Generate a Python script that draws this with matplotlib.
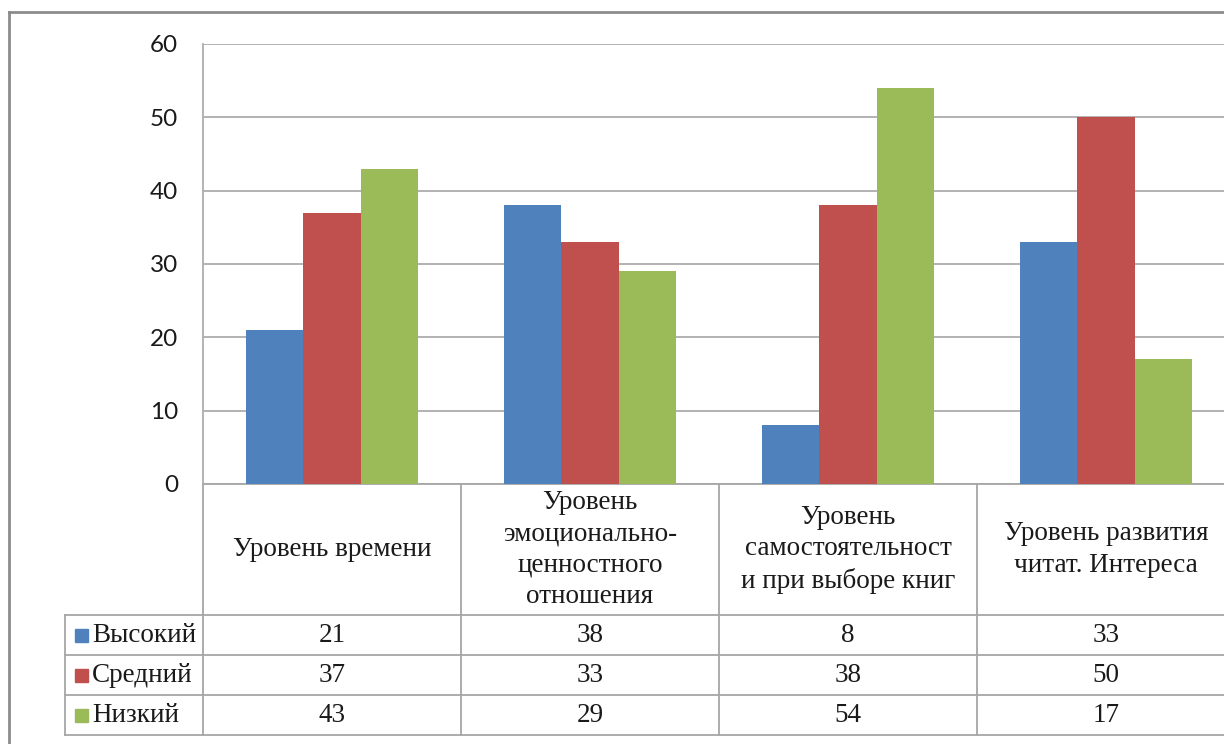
import numpy as np
import matplotlib.pyplot as plt
from matplotlib.lines import Line2D
from matplotlib.patches import Rectangle
import matplotlib.transforms as mtransforms

categories = ["Уровень времени",
              "Уровень\nэмоционально-\nценностного\nотношения",
              "Уровень\nсамостоятельност\nи при выборе книг",
              "Уровень развития\nчитат. Интереса"]
series = ["Высокий", "Средний", "Низкий"]
high = [21, 38, 8, 33]
mid = [37, 33, 38, 50]
low = [43, 29, 54, 17]
colors = ["#4F81BD", "#C0504D", "#9BBB59"]
yticks = [0, 10, 20, 30, 40, 50, 60]

W, H = 1224, 744
fig = plt.figure(figsize=(W / 100, H / 100), dpi=100)

# plot area (pixels): x 203..1235, y 44..484
ax = fig.add_axes([203 / W, (H - 484) / H, 1032 / W, 440 / H])

x = np.arange(len(categories))
bw = 1 / 4.5
for i, (vals, c) in enumerate(zip([high, mid, low], colors)):
    ax.bar(x + (i - 1) * bw, vals, bw, color=c, zorder=3, clip_on=False)

ax.set_xlim(-0.5, len(categories) - 0.5)
ax.set_ylim(0, 60)
ax.set_yticks(yticks)
ax.set_yticklabels([str(t) for t in yticks], fontsize=17.5, family="Lato", color="#1a1a1a")
ax.tick_params(axis="y", length=0, pad=18)
ax.set_xticks([])
ax.grid(axis="y", color="#ADADAD", linewidth=1.3, zorder=0)
for s in ["top", "right", "bottom"]:
    ax.spines[s].set_visible(False)
ax.spines["left"].set_color("#ADADAD")
ax.spines["left"].set_linewidth(1.3)

# data table under the axes
tr = mtransforms.blended_transform_factory(ax.transData, ax.transAxes)
px = 440.0
y_axis = 0.0
y_head = -(615 - 484) / px
row_h = 40 / px
y_rows = [y_head - row_h * k for k in range(4)]
x_lab = -0.5 - 138 / 258
x_edges = np.arange(len(categories) + 1) - 0.5
lc = "#A6A6A6"
lw = 1.3

kw = dict(transform=tr, color=lc, linewidth=lw, clip_on=False)
ax.add_line(Line2D([x_edges[0], x_edges[-1]], [y_axis, y_axis], **kw))
for yy in y_rows:
    ax.add_line(Line2D([x_lab, x_edges[-1]], [yy, yy], **kw))
for xe in x_edges:
    ax.add_line(Line2D([xe, xe], [y_axis, y_rows[-1]], **kw))
ax.add_line(Line2D([x_lab, x_lab], [y_head, y_rows[-1]], **kw))

serif = "Liberation Serif"
fs = 19.5
for j, cat in enumerate(categories):
    ax.text(j, (y_axis + y_head) / 2, cat, transform=tr, ha="center", va="center",
            fontsize=fs, family=serif, color="#1a1a1a", linespacing=1.32)

for r, (name, vals, c) in enumerate(zip(series, [high, mid, low], colors)):
    yc = (y_rows[r] + y_rows[r + 1]) / 2
    ax.add_patch(Rectangle((x_lab + 10 / 258, yc - 6.5 / px), 13 / 258, 13 / px,
                           transform=tr, color=c, clip_on=False))
    ax.text(x_lab + 27 / 258, yc, name, transform=tr, ha="left", va="center",
            fontsize=fs, family=serif, color="#1a1a1a")
    for j, v in enumerate(vals):
        ax.text(j, yc, str(v), transform=tr, ha="center", va="center",
                fontsize=fs, family=serif, color="#1a1a1a")

# outer chart border
fig.add_artist(Line2D([9 / W, 1.0], [1 - 12 / H, 1 - 12 / H], transform=fig.transFigure,
                      color="#8C8C8C", linewidth=2))
fig.add_artist(Line2D([9 / W, 9 / W], [0.0, 1 - 12 / H], transform=fig.transFigure,
                      color="#8C8C8C", linewidth=2))

fig.savefig("out.png", dpi=100)
